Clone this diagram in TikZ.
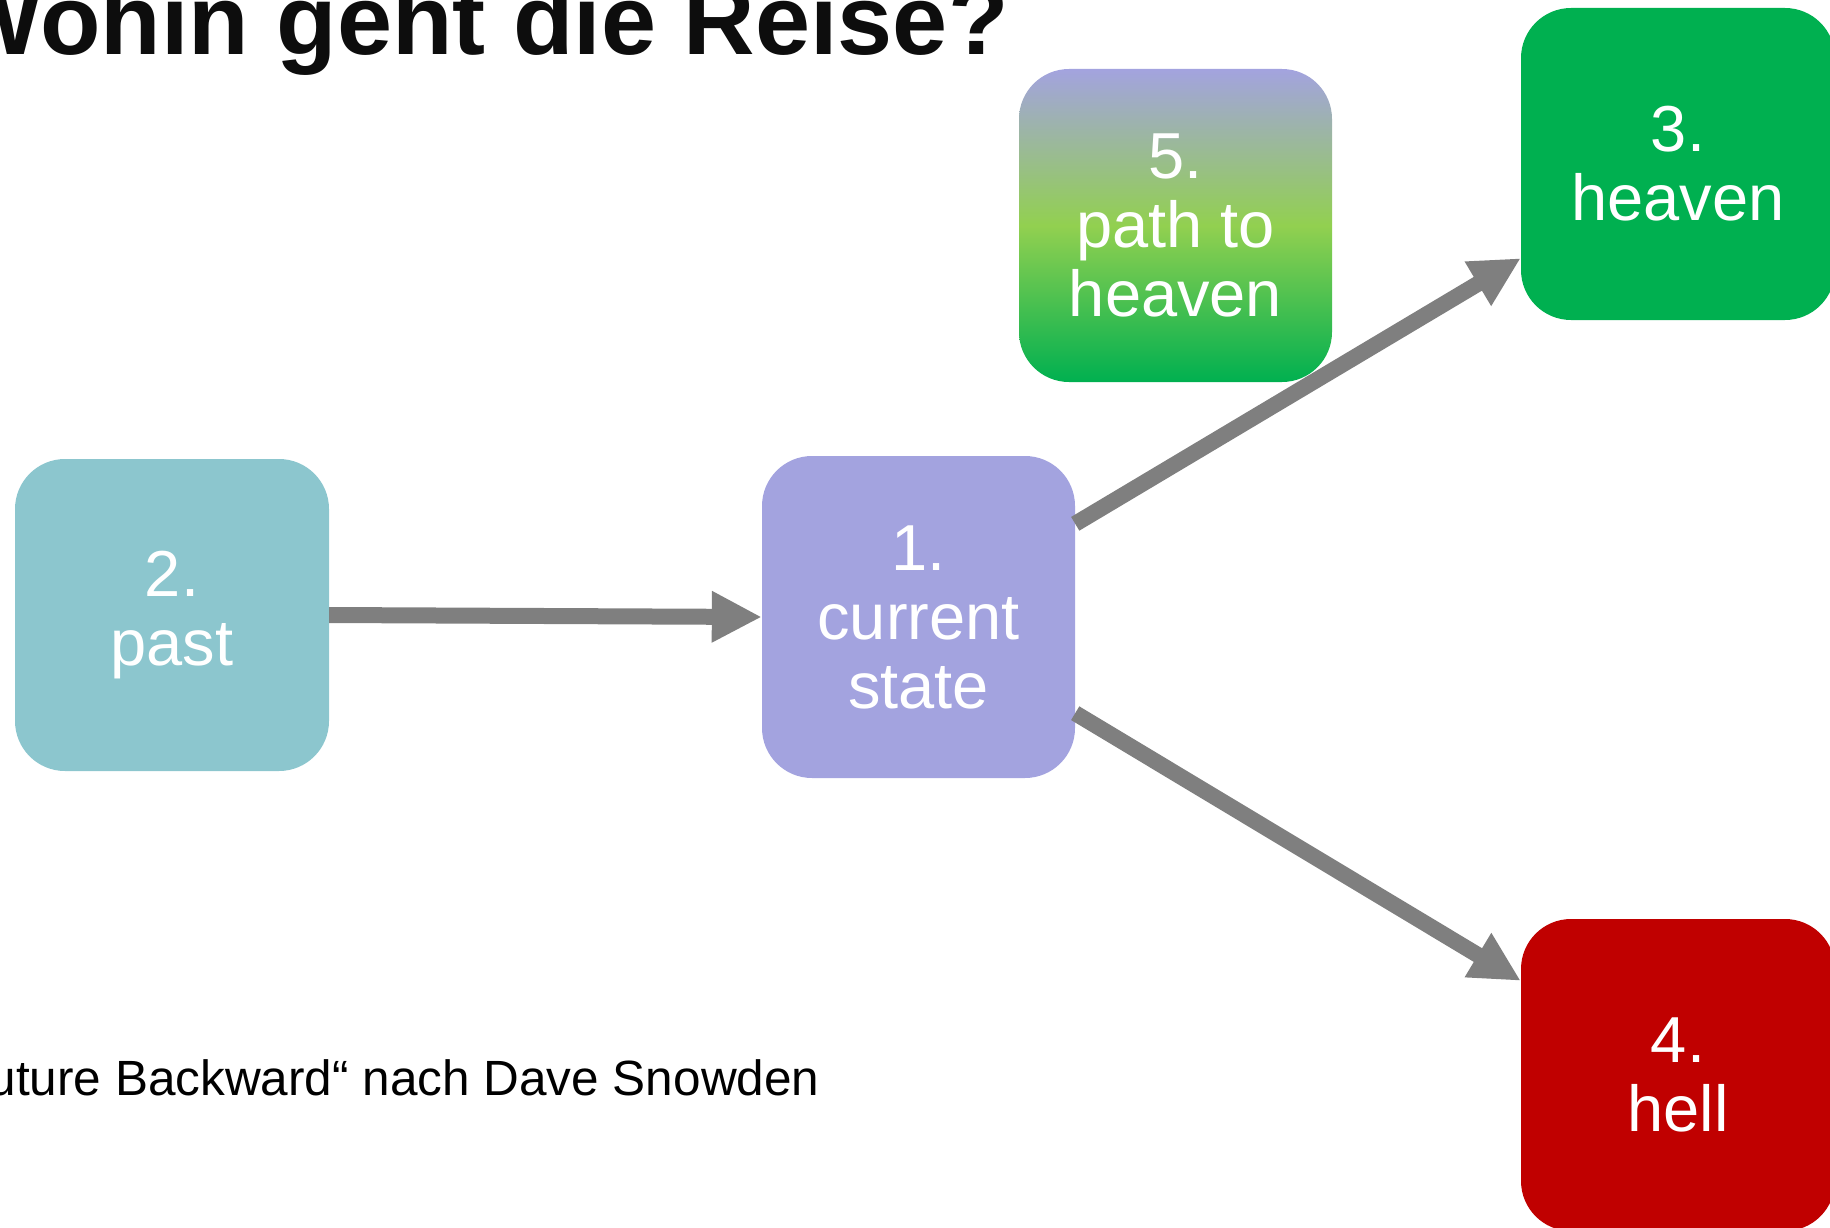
\documentclass[tikz,border=0pt]{standalone}
\usepackage{fontspec}
\setmainfont{Liberation Sans}
\usetikzlibrary{arrows.meta,calc}
\definecolor{pastc}{RGB}{140,198,206}
\definecolor{lavc}{RGB}{163,163,223}
\definecolor{lgreen}{RGB}{146,208,80}
\definecolor{dgreen}{RGB}{0,176,80}
\definecolor{hellc}{RGB}{192,0,0}
\definecolor{arrowgray}{RGB}{127,127,127}
\begin{document}
\begin{tikzpicture}[x=1pt,y=-1pt,
  box/.style={rounded corners=50pt, inner sep=0pt, align=center, text=white,
    font=\fontsize{65}{69}\selectfont},
  conn/.style={draw=arrowgray, line width=16pt, -{Triangle[length=50pt,width=48pt]}}]
\useasboundingbox (0,0) rectangle (1830,1228);
\clip (0,0) rectangle (1830,1228);
\node[anchor=base east, font=\fontsize{99}{110}\selectfont\bfseries, text={rgb,255:red,13;green,13;blue,13}] (title) at (1012,55) {Wohin geht die Reise?};
\node[anchor=base east, font=\fontsize{49.5}{58}\selectfont] (src) at (823,1095) {„Future Backward“ nach Dave Snowden};
\node[box, fill=pastc, minimum width=314pt, minimum height=312pt] (past) at (172,615) {2.\\past};
\node[box, fill=lavc, minimum width=313pt, minimum height=322pt] (current) at (918.5,617) {1.\\current\\state};
\node[box, top color=lavc, bottom color=dgreen, middle color=lgreen, minimum width=313pt, minimum height=313pt] (path) at (1175.5,225.5) {5.\\path to\\heaven};
\node[box, fill=dgreen, minimum width=314pt, minimum height=312pt] (heaven) at (1678,164) {3.\\heaven};
\node[box, fill=hellc, minimum width=314pt, minimum height=312pt] (hell) at (1678,1075) {4.\\hell};
\coordinate (a1) at ($(current.north east)+(0,68)$);
\coordinate (h1) at ($(heaven.south west)+(0,-62)$);
\coordinate (a2) at ($(current.south east)+(0,-65)$);
\coordinate (h2) at ($(hell.north west)+(0,62)$);
\draw[conn] (past.east) -- (current.west);
\draw[conn] (a1) -- (h1);
\draw[conn] (a2) -- (h2);
\end{tikzpicture}
\end{document}
